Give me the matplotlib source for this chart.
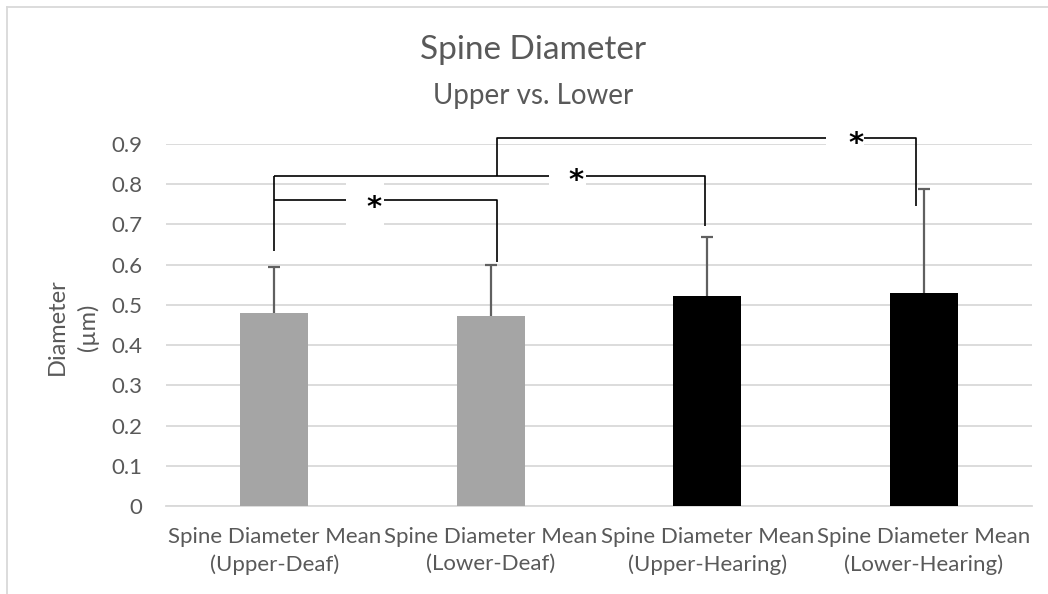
import matplotlib.pyplot as plt
from matplotlib.patches import Rectangle
import numpy as np

# valeurs
categories = ["Spine Diameter Mean\n(Upper-Deaf)", "Spine Diameter Mean\n(Lower-Deaf)",
              "Spine Diameter Mean\n(Upper-Hearing)", "Spine Diameter Mean\n(Lower-Hearing)"]
means = [0.479, 0.473, 0.522, 0.530]
err_top = [0.593, 0.600, 0.670, 0.789]
bar_colors = ["#A5A5A5", "#A5A5A5", "#000000", "#000000"]
yticks = [0, 0.1, 0.2, 0.3, 0.4, 0.5, 0.6, 0.7, 0.8, 0.9]

plt.rcParams['font.family'] = ['Lato', 'DejaVu Sans']
txt = "#595959"

fig = plt.figure(figsize=(10.48, 5.94), dpi=100)
ax = fig.add_axes([166/1048, 88/594, 866/1048, 362/594])

x = np.arange(len(means))
ax.bar(x, means, width=0.313, color=bar_colors, zorder=3)
# barres d'erreur seulement vers le haut
ax.vlines(x, means, err_top, color="#606060", lw=1.6, zorder=4)
ax.hlines(err_top, x - 0.028, x + 0.028, color="#606060", lw=1.6, zorder=4)

ax.set_xlim(-0.5, 3.5)
ax.set_ylim(0, 0.9)
ax.set_yticks(yticks)
ax.set_yticklabels(["0" if v == 0 else f"{v:.1f}" for v in yticks])
ax.set_xticks(x)
ax.set_xticklabels(categories, linespacing=1.45)
ax.grid(axis='y', color="#D9D9D9", lw=1.3, zorder=0)
ax.set_axisbelow(True)
for s in ["top", "right", "left"]:
    ax.spines[s].set_visible(False)
ax.spines["bottom"].set_color("#D9D9D9")
ax.spines["bottom"].set_linewidth(1.3)
ax.tick_params(axis='both', length=0, colors=txt, labelsize=16)
ax.tick_params(axis='x', pad=15)
ax.tick_params(axis='y', pad=17)
fig.text(73/1048, 1 - 327/594, "Diameter\n(µm)", rotation=90, ha='center', va='center',
         color=txt, fontsize=17, linespacing=1.5)

# crochets de significativite
kw = dict(color="black", lw=1.2, zorder=5, clip_on=False, solid_capstyle='butt')
ax.plot([0, 0], [0.635, 0.821], **kw)
ax.plot([0, 1.028, 1.028], [0.760, 0.760, 0.607], **kw)
ax.plot([0, 1.99, 1.99], [0.821, 0.821, 0.695], **kw)
ax.plot([1.028, 1.028, 2.963, 2.963], [0.821, 0.914, 0.914, 0.745], **kw)

boxes = [(0.332, 0.507, 0.681, 0.815, 0.461, 0.757),
         (1.267, 1.442, 0.778, 0.868, 1.396, 0.823),
         (2.548, 2.724, 0.884, 0.950, 2.687, 0.917)]
for x0, x1, y0, y1, sx, sy in boxes:
    ax.add_patch(Rectangle((x0, y0), x1 - x0, y1 - y0, facecolor="white",
                           edgecolor="none", zorder=6, clip_on=False))
    ax.text(sx, sy - 0.016, "*", fontsize=21, ha='center', va='center',
            color="black", zorder=7, family='DejaVu Sans', fontweight='bold')

fig.text(533/1048, 1 - 50/594, "Spine Diameter", ha='center', va='center',
         fontsize=24, color=txt)
fig.text(533/1048, 1 - 96/594, "Upper vs. Lower", ha='center', va='center',
         fontsize=20, color=txt)

# bord du cadre du graphique
fig.add_artist(plt.Line2D([7/1048, 1], [1 - 7/594, 1 - 7/594], color="#D9D9D9", lw=1.3))
fig.add_artist(plt.Line2D([7/1048, 7/1048], [0, 1 - 7/594], color="#D9D9D9", lw=1.3))

fig.savefig("out.png", dpi=100)
